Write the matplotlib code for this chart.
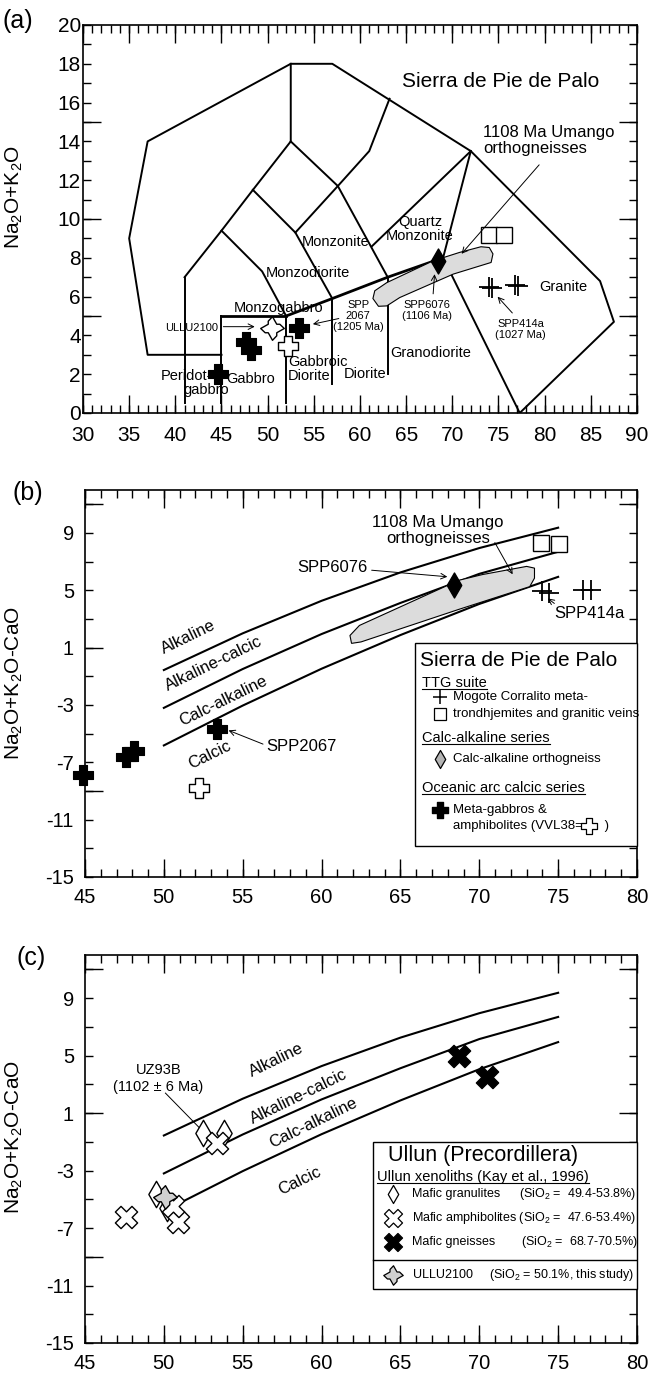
import numpy as np
import matplotlib
matplotlib.use('Agg')
import matplotlib.pyplot as plt
from matplotlib.path import Path
from matplotlib.patches import Polygon, Rectangle
from matplotlib.ticker import FixedLocator, FuncFormatter, NullFormatter
from matplotlib.lines import Line2D
from matplotlib.transforms import IdentityTransform, Affine2D

plt.rcParams['font.family'] = ['Liberation Sans', 'DejaVu Sans']
plt.rcParams['mathtext.fontset'] = 'custom'
plt.rcParams['mathtext.rm'] = 'Liberation Sans'
plt.rcParams['mathtext.it'] = 'Liberation Sans:italic'
plt.rcParams['mathtext.default'] = 'regular'

# ---------------- data: panel (a) TAS boundaries ----------------
tas_outer_x = [45, 37, 35, 37, 52.5, 57, 72, 86, 87.5, 77.3]
tas_outer_y = [3, 3, 9, 14, 18, 18, 13.5, 6.8, 4.7, 0]
tas_lines = [
    ([41, 41], [0.5, 7]),
    ([41, 45, 48.4, 52.5, 52.5], [7, 9.4, 11.5, 14, 18]),
    ([45, 45], [0.5, 5]),
    ([52, 52], [0.5, 5]),
    ([57, 57], [1.5, 5.9]),
    ([63, 63], [2, 7]),
    ([45, 49.4, 52], [9.4, 7.3, 5]),
    ([48.4, 53, 57], [11.5, 9.3, 5.9]),
    ([52.5, 57.6, 63], [14, 11.7, 7]),
    ([53, 57.6, 61, 63.2], [9.3, 11.7, 13.5, 16.2]),
    ([72, 61.3], [13.5, 8.6]),
    ([72, 69], [13.5, 8]),
    ([69, 77.3], [8, 0]),
]
tas_bold = [
    ([45, 52], [5, 5]),
    ([52, 57, 63, 69], [5, 5.9, 7, 8]),
]

umango_a_x = [61.4, 62.0, 62.9, 64.3, 70.1, 74.2, 74.4, 74.0, 73.1, 70.8, 67.9, 62.9, 61.6]
umango_a_y = [5.9, 5.5, 5.52, 5.95, 7.16, 7.76, 8.2, 8.53, 8.57, 8.28, 7.84, 6.72, 6.3]

# samples (panel a)
a_gabbro_x = [44.6, 47.6, 48.2, 53.4]
a_gabbro_y = [2.0, 3.65, 3.25, 4.4]
a_vvl38_x, a_vvl38_y = [52.2], [3.45]
a_ullu_x, a_ullu_y = [50.5], [4.4]
a_ortho_x, a_ortho_y = [68.4], [7.84]
a_veins_x, a_veins_y = [73.95, 75.6], [9.2, 9.2]
a_ttg_x = [74.0, 74.35, 76.8, 77.15]
a_ttg_y = [6.5, 6.45, 6.6, 6.55]

# ---------------- data: MALI boundaries (panels b, c) ----------------
mali_x = [50, 55, 60, 65, 70, 75]
mali_alk = [-0.56, 2.00, 4.27, 6.25, 7.95, 9.37]
mali_alkcalc = [-3.20, -0.49, 1.95, 4.12, 6.15, 7.69]
mali_calcalk = [-5.82, -3.04, -0.47, 1.88, 4.05, 5.94]

umango_b_x = [61.8, 61.9, 62.5, 68.7, 73.2, 73.5, 73.5, 73.0, 70.2, 68.7, 62.4]
umango_b_y = [1.85, 1.3, 1.4, 3.67, 5.26, 5.85, 6.55, 6.67, 6.1, 5.7, 2.55]

b_gabbro_x = [44.9, 47.6, 48.1, 53.4]
b_gabbro_y = [-7.9, -6.6, -6.2, -4.7]
b_vvl38_x, b_vvl38_y = [52.2], [-8.8]
b_ortho_x, b_ortho_y = [68.4], [5.35]
b_veins_x, b_veins_y = [73.9, 75.05], [8.3, 8.2]
b_ttg_x = [73.95, 74.4, 76.6, 77.1]
b_ttg_y = [4.95, 4.8, 5.0, 5.0]

c_gneiss_x, c_gneiss_y = [68.7, 70.5], [5.0, 3.5]
c_amph_x = [47.6, 50.9, 53.4, 50.6]
c_amph_y = [-6.2, -6.6, -1.1, -5.5]
c_gran_x = [49.5, 52.5, 53.8, 50.2]
c_gran_y = [-4.6, -0.4, -0.4, -5.6]
c_ullu_x, c_ullu_y = [50.1], [-4.85]

# ---------------- marker shapes ----------------
def plus_path(a):
    v = [(-a, -1), (a, -1), (a, -a), (1, -a), (1, a), (a, a), (a, 1), (-a, 1),
         (-a, a), (-1, a), (-1, -a), (-a, -a), (-a, -1)]
    return Path(v, closed=True)

def x_path(a):
    p = plus_path(a)
    return Affine2D().rotate_deg(45).transform_path(p)

def star_path():
    base = [(1, 0), (0.62, 0.36), (0.36, 0.36)]
    verts = []
    for k in range(4):
        ang = np.deg2rad(90 * k)
        c, s = np.cos(ang), np.sin(ang)
        for (x, y) in base:
            verts.append((x * c - y * s, x * s + y * c))
    verts.append(verts[0])
    return Path(verts, closed=True)

CROSS = plus_path(0.40)
XMK = x_path(0.34)
STAR = star_path()
THIN_D = Path([(0, 1), (0.58, 0), (0, -1), (-0.58, 0), (0, 1)], closed=True)

fig = plt.figure(figsize=(6.49, 13.74), dpi=100)
W, H = 649, 1374

def add_ax(l, t, r, b):
    return fig.add_axes([l / W, 1 - b / H, (r - l) / W, (b - t) / H])

axa = add_ax(83, 25, 637, 413)
axb = add_ax(85, 490, 637, 877)
axc = add_ax(85, 955, 637, 1343)

def set_ticks(ax, xlong, xshort, xlab, ylong, yshort, ylab, fs, padx, pady):
    ax.xaxis.remove_overlapping_locs = False
    ax.yaxis.remove_overlapping_locs = False
    ax.xaxis.set_major_locator(FixedLocator(xlong))
    ax.xaxis.set_minor_locator(FixedLocator(xshort))
    ax.yaxis.set_major_locator(FixedLocator(ylong))
    ax.yaxis.set_minor_locator(FixedLocator(yshort))
    ax.xaxis.set_major_formatter(NullFormatter())
    ax.yaxis.set_major_formatter(NullFormatter())
    def mk(labels):
        def f(v, p):
            for L in labels:
                if abs(v - L) < 1e-6:
                    return '%d' % round(v)
            return ''
        return FuncFormatter(f)
    ax.xaxis.set_minor_formatter(mk(xlab))
    ax.yaxis.set_minor_formatter(mk(ylab))
    ax.tick_params(which='both', direction='in', top=True, right=True,
                   width=1.0, labelsize=fs)
    ax.tick_params(which='major', length=13)
    ax.tick_params(which='minor', length=6)
    ax.tick_params(axis='x', which='both', pad=padx)
    ax.tick_params(axis='y', which='both', pad=pady)
    for s in ax.spines.values():
        s.set_linewidth(1.2)

# ================= panel (a) =================
ax = axa
ax.set_xlim(30, 90)
ax.set_ylim(0, 20)
set_ticks(ax, np.arange(30, 91, 5), np.arange(30, 91, 1), list(range(30, 91, 5)),
          [5, 10, 15], np.arange(0, 21, 1), list(range(0, 21, 2)), 15, 9.5, 1.5)
ax.plot(tas_outer_x, tas_outer_y, color='black', lw=1.4, zorder=2)
for xs, ys in tas_lines:
    ax.plot(xs, ys, color='black', lw=1.4, zorder=2)
for xs, ys in tas_bold:
    ax.plot(xs, ys, color='black', lw=2.0, zorder=2)
ax.add_patch(Polygon(np.column_stack([umango_a_x, umango_a_y]), closed=True,
                     facecolor='#dcdcdc', edgecolor='black', lw=0.8, zorder=3))
mk = dict(linestyle='none', zorder=5, clip_on=False)
ax.plot(a_gabbro_x, a_gabbro_y, marker=CROSS, ms=14, mfc='black', mec='black', mew=0.8, **mk)
ax.plot(a_vvl38_x, a_vvl38_y, marker=CROSS, ms=14, mfc='white', mec='black', mew=1.0, **mk)
ax.plot(a_ullu_x, a_ullu_y, marker=STAR, ms=17, mfc='white', mec='black', mew=1.0, **mk)
ax.plot(a_ortho_x, a_ortho_y, marker=THIN_D, ms=18, mfc='black', mec='black', **mk)
ax.plot(a_veins_x, a_veins_y, marker='s', ms=11.5, mfc='white', mec='black', mew=1.0, **mk)
ax.plot(a_ttg_x, a_ttg_y, marker='+', ms=14, mec='black', mew=1.3, **mk)

fl = dict(fontsize=10.5, ha='center', va='center', zorder=6)
ax.text(75.2, 17.1, 'Sierra de Pie de Palo', fontsize=15, ha='center', va='center')
ax.text(73.3, 14.05, '1108 Ma Umango\northogneisses', fontsize=12, ha='left', va='center',
        linespacing=1.1)
ax.annotate('', xy=(70.8, 8.1), xytext=(79.6, 12.9),
            arrowprops=dict(arrowstyle='->', lw=0.7, color='black'), zorder=6)
ax.text(66.5, 9.5, 'Quartz\nMonzonite', linespacing=1.0, **fl)
ax.text(57.4, 8.83, 'Monzonite', **fl)
ax.text(54.4, 7.2, 'Monzodiorite', **fl)
ax.text(51.2, 5.41, 'Monzogabbro', **fl)
ax.text(59.8, 5.0, 'SPP\n2067\n(1205 Ma)', fontsize=8, ha='center', va='center', linespacing=1.1)
ax.annotate('', xy=(54.6, 4.55), xytext=(58.0, 4.9),
            arrowprops=dict(arrowstyle='->', lw=0.7, color='black'))
ax.text(41.8, 4.4, 'ULLU2100', fontsize=8, ha='center', va='center')
ax.annotate('', xy=(48.9, 4.45), xytext=(44.9, 4.45),
            arrowprops=dict(arrowstyle='->', lw=0.7, color='black'))
ax.text(67.3, 5.3, 'SPP6076\n(1106 Ma)', fontsize=8, ha='center', va='center', linespacing=1.1)
ax.annotate('', xy=(68.1, 7.3), xytext=(67.9, 6.0),
            arrowprops=dict(arrowstyle='->', lw=0.7, color='black'))
ax.text(82.0, 6.48, 'Granite', **fl)
ax.text(77.4, 4.3, 'SPP414a\n(1027 Ma)', fontsize=8, ha='center', va='center', linespacing=1.1)
ax.annotate('', xy=(74.7, 6.1), xytext=(76.7, 5.05),
            arrowprops=dict(arrowstyle='->', lw=0.7, color='black'))
ax.text(67.7, 3.08, 'Granodiorite', **fl)
ax.text(52.2, 2.26, 'Gabbroic\nDiorite', fontsize=10.5, ha='left', va='center', linespacing=1.0)
ax.text(60.6, 2.0, 'Diorite', **fl)
ax.text(48.2, 1.75, 'Gabbro', **fl)
ax.text(41.2, 1.9, 'Peridot-', **fl)
ax.text(43.3, 1.19, 'gabbro', **fl)
ax.set_ylabel('Na$_2$O+K$_2$O', fontsize=15)
ax.yaxis.set_label_coords((25 - 83) / 554, 0.557)

# ================= panels (b) and (c) common =================
def mali(ax, ylab_y):
    ax.set_xlim(45, 80)
    ax.set_ylim(-15, 12)
    set_ticks(ax, np.arange(45, 81, 5), np.arange(45, 81, 1), list(range(45, 81, 5)),
              [-9, 1, 11], np.arange(-15, 12, 2), list(range(-15, 10, 4)), 14.5, 8, 8)
    for ys in (mali_alk, mali_alkcalc, mali_calcalk):
        ax.plot(mali_x, ys, color='black', lw=1.5, zorder=2)
    ax.set_ylabel('Na$_2$O+K$_2$O-CaO', fontsize=15)
    ax.yaxis.set_label_coords((25 - 85) / 552, ylab_y)

# ================= panel (b) =================
ax = axb
mali(ax, 0.5)
rl = dict(fontsize=12, rotation=26, ha='center', va='center', rotation_mode='anchor')
ax.text(51.58, 1.72, 'Alkaline', **rl)
ax.text(53.16, -0.1, 'Alkaline-calcic', **rl)
ax.text(53.74, -2.7, 'Calc-alkaline', **rl)
ax.text(52.9, -6.5, 'Calcic', **rl)
ax.add_patch(Polygon(np.column_stack([umango_b_x, umango_b_y]), closed=True,
                     facecolor='#dcdcdc', edgecolor='black', lw=0.8, zorder=3))
ax.plot(b_gabbro_x, b_gabbro_y, marker=CROSS, ms=14, mfc='black', mec='black', mew=0.8, **mk)
ax.plot(b_vvl38_x, b_vvl38_y, marker=CROSS, ms=14, mfc='white', mec='black', mew=1.0, **mk)
ax.plot(b_ortho_x, b_ortho_y, marker=THIN_D, ms=18, mfc='black', mec='black', **mk)
ax.plot(b_veins_x, b_veins_y, marker='s', ms=11.5, mfc='white', mec='black', mew=1.0, **mk)
ax.plot(b_ttg_x, b_ttg_y, marker='+', ms=14, mec='black', mew=1.3, **mk)
ax.text(67.37, 9.2, '1108 Ma Umango\northogneisses', fontsize=12, ha='center', va='center',
        linespacing=1.1)
ax.annotate('', xy=(72.2, 5.95), xytext=(70.9, 8.5),
            arrowprops=dict(arrowstyle='->', lw=0.7, color='black'))
ax.text(60.7, 6.56, 'SPP6076', fontsize=12, ha='center', va='center')
ax.annotate('', xy=(68.15, 5.93), xytext=(63.0, 6.42),
            arrowprops=dict(arrowstyle='->', lw=0.7, color='black'))
ax.text(77.0, 3.4, 'SPP414a', fontsize=12, ha='center', va='center')
ax.annotate('', xy=(74.2, 4.55), xytext=(74.9, 3.97),
            arrowprops=dict(arrowstyle='->', lw=0.7, color='black'))
ax.text(58.7, -5.9, 'SPP2067', fontsize=12, ha='center', va='center')
ax.annotate('', xy=(53.94, -4.7), xytext=(56.45, -5.8),
            arrowprops=dict(arrowstyle='->', lw=0.7, color='black'))

# legend (b)
def fx(px, l=85, w=552):
    return (px - l) / w
def fyb(py):
    return 1 - (py - 490) / 387
T = ax.transAxes
ax.add_patch(Rectangle((fx(415), fyb(846)), fx(637) - fx(415), fyb(643) - fyb(846),
                       transform=T, facecolor='white', edgecolor='black', lw=1.0,
                       zorder=7, clip_on=False))
lk = dict(transform=T, zorder=8, va='center', ha='left')
ax.text(fx(420), fyb(661), 'Sierra de Pie de Palo', fontsize=15, **lk)
hb = []
hb.append(ax.text(fx(422), fyb(683), 'TTG suite', fontsize=10.5, **lk))
ax.plot([fx(440)], [fyb(697)], marker='+', ms=10, mec='black', mew=1.1, transform=T, zorder=8)
ax.text(fx(453), fyb(697), 'Mogote Corralito meta-', fontsize=9.5, **lk)
ax.plot([fx(440)], [fyb(714)], marker='s', ms=8, mfc='white', mec='black', mew=0.9, transform=T, zorder=8)
ax.text(fx(453), fyb(714), 'trondhjemites and granitic veins', fontsize=9.5, **lk)
hb.append(ax.text(fx(422), fyb(738), 'Calc-alkaline series', fontsize=10.5, **lk))
ax.plot([fx(440)], [fyb(759)], marker=THIN_D, ms=13, mfc='#b4b4b4', mec='black', mew=0.9, transform=T, zorder=8)
ax.text(fx(453), fyb(759), 'Calc-alkaline orthogneiss', fontsize=9.5, **lk)
hb.append(ax.text(fx(422), fyb(788), 'Oceanic arc calcic series', fontsize=10.5, **lk))
ax.plot([fx(440)], [fyb(810)], marker=CROSS, ms=12, mfc='black', mec='black', transform=T, zorder=8)
ax.text(fx(453), fyb(810), 'Meta-gabbros &', fontsize=9.5, **lk)
ax.text(fx(453), fyb(826), 'amphibolites (VVL38=      )', fontsize=9.5, **lk)
ax.plot([fx(589)], [fyb(826)], marker=CROSS, ms=11, mfc='white', mec='black', mew=0.9, transform=T, zorder=8)

# ================= panel (c) =================
ax = axc
mali(ax, 0.531)
ax.text(57.16, 4.67, 'Alkaline', **rl)
ax.text(58.55, 2.16, 'Alkaline-calcic', **rl)
ax.text(59.46, 0.30, 'Calc-alkaline', **rl)
ax.text(58.6, -3.7, 'Calcic', **rl)
ax.plot(c_gran_x, c_gran_y, marker=THIN_D, ms=19, mfc='white', mec='black', mew=1.0, **mk)
ax.plot(c_amph_x, c_amph_y, marker=XMK, ms=16, mfc='white', mec='black', mew=1.0, **mk)
ax.plot(c_gneiss_x, c_gneiss_y, marker=XMK, ms=16, mfc='black', mec='black', mew=1.0, **mk)
ax.plot(c_ullu_x, c_ullu_y, marker=STAR, ms=17, mfc='#d0d0d0', mec='black', mew=1.0, **mk)
ax.text(49.66, 3.97, 'UZ93B', fontsize=10.5, ha='center', va='center')
ax.text(49.66, 2.81, '(1102 ± 6 Ma)', fontsize=10.5, ha='center', va='center')
ax.plot([50.1, 52.5], [2.39, -0.3], color='black', lw=0.7, zorder=4)

def fyc(py):
    return 1 - (py - 955) / 388
T = ax.transAxes
ax.add_patch(Rectangle((fx(373), fyc(1289)), fx(637) - fx(373), fyc(1142) - fyc(1289),
                       transform=T, facecolor='white', edgecolor='black', lw=1.0,
                       zorder=7, clip_on=False))
ax.plot([fx(373), fx(637)], [fyc(1260), fyc(1260)], color='black', lw=1.0, transform=T, zorder=8)
lk = dict(transform=T, zorder=8, va='center', ha='left')
ax.text(fx(388), fyc(1155), 'Ullun (Precordillera)', fontsize=15.5, **lk)
hc = ax.text(fx(377), fyc(1177), 'Ullun xenoliths (Kay et al., 1996)', fontsize=10.5, **lk)
ax.plot([fx(393)], [fyc(1194)], marker=THIN_D, ms=13, mfc='white', mec='black', mew=0.9, transform=T, zorder=8)
ax.text(fx(412), fyc(1194), 'Mafic granulites', fontsize=9, **lk)
ax.text(fx(519), fyc(1194), '(SiO$_2$ =  49.4-53.8%)', fontsize=9, **lk)
ax.plot([fx(393)], [fyc(1218)], marker=XMK, ms=13, mfc='white', mec='black', mew=0.9, transform=T, zorder=8)
ax.text(fx(412), fyc(1218), 'Mafic amphibolites (SiO$_2$ =  47.6-53.4%)', fontsize=9, **lk)
ax.plot([fx(393)], [fyc(1242)], marker=XMK, ms=13, mfc='black', mec='black', mew=0.9, transform=T, zorder=8)
ax.text(fx(412), fyc(1242), 'Mafic gneisses', fontsize=9, **lk)
ax.text(fx(521), fyc(1242), '(SiO$_2$ =  68.7-70.5%)', fontsize=9, **lk)
ax.plot([fx(393)], [fyc(1275)], marker=STAR, ms=14, mfc='#d0d0d0', mec='black', mew=0.9, transform=T, zorder=8)
ax.text(fx(413), fyc(1275), 'ULLU2100', fontsize=9, **lk)
ax.text(fx(489), fyc(1275), '(SiO$_2$ = 50.1%, this study)', fontsize=9, **lk)

# panel letters
fig.text(3 / W, 1 - 21 / H, '(a)', fontsize=18, ha='left', va='center')
fig.text(12 / W, 1 - 493 / H, '(b)', fontsize=18, ha='left', va='center')
fig.text(17 / W, 1 - 958 / H, '(c)', fontsize=18, ha='left', va='center')

# underline legend headings
fig.canvas.draw()
r = fig.canvas.get_renderer()
for t in hb + [hc]:
    bb = t.get_window_extent(r)
    fig.add_artist(Line2D([bb.x0, bb.x1], [bb.y0 + 1, bb.y0 + 1], transform=IdentityTransform(),
                          color='black', lw=0.8, zorder=9))

fig.savefig('out.png', dpi=100)
